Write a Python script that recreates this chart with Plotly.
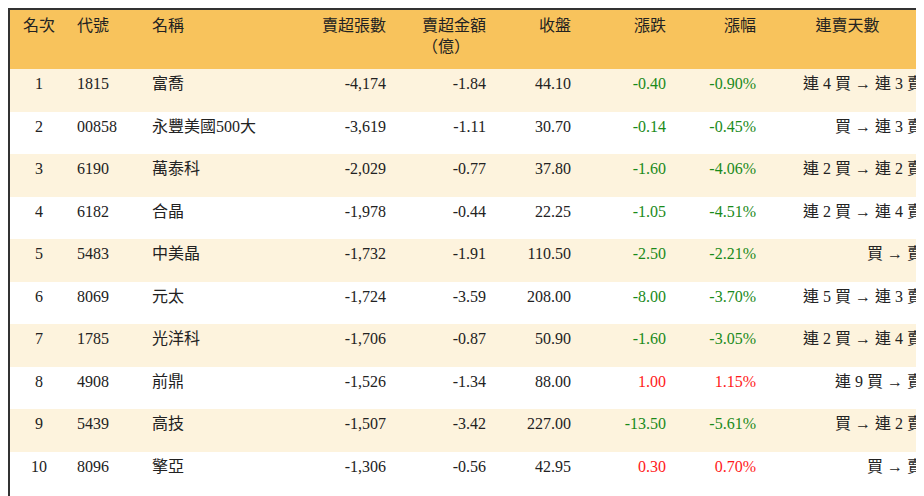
import plotly.graph_objects as go

headers = ["名次", "代號", "名稱", "賣超張數", "賣超金額<br>（億）", "收盤", "漲跌", "漲幅", "連賣天數"]
rank = ["1", "2", "3", "4", "5", "6", "7", "8", "9", "10"]
code = ["1815", "00858", "6190", "6182", "5483", "8069", "1785", "4908", "5439", "8096"]
name = ["富喬", "永豐美國500大", "萬泰科", "合晶", "中美晶", "元太", "光洋科", "前鼎", "高技", "擎亞"]
net_sell = ["-4,174", "-3,619", "-2,029", "-1,978", "-1,732", "-1,724", "-1,706", "-1,526", "-1,507", "-1,306"]
amount = ["-1.84", "-1.11", "-0.77", "-0.44", "-1.91", "-3.59", "-0.87", "-1.34", "-3.42", "-0.56"]
close = ["44.10", "30.70", "37.80", "22.25", "110.50", "208.00", "50.90", "88.00", "227.00", "42.95"]
change = [-0.40, -0.14, -1.60, -1.05, -2.50, -8.00, -1.60, 1.00, -13.50, 0.30]
pct = [-0.90, -0.45, -4.06, -4.51, -2.21, -3.70, -3.05, 1.15, -5.61, 0.70]
streak = ["連 4 買 → 連 3 賣", "買 → 連 3 賣", "連 2 買 → 連 2 賣", "連 2 買 → 連 4 賣", "買 → 賣",
          "連 5 買 → 連 3 賣", "連 2 買 → 連 4 賣", "連 9 買 → 賣", "買 → 連 2 賣", "買 → 賣"]

GREEN, RED, DARK = "#1a8a1a", "#ff1a1a", "#222222"
chg_txt = [f"{v:.2f}" for v in change]
pct_txt = [f"{v:.2f}%" for v in pct]
chg_col = [GREEN if v < 0 else RED for v in change]
pct_col = [GREEN if v < 0 else RED for v in pct]
fills = ["#fdf3dd" if i % 2 == 0 else "#ffffff" for i in range(len(rank))]
dark_col = [DARK] * len(rank)

font_fam = "Liberation Serif, Noto Sans CJK TC"
hdr = [h if "<br>" in h else "<br>" + h for h in headers]
fig = go.Figure(go.Table(
    columnwidth=[60, 75, 150, 100, 100, 85, 95, 90, 167],
    header=dict(values=hdr,
                fill_color="#f8c35c", line=dict(width=0),
                align=["center", "left", "left", "right", "right", "right", "right", "right", "center"],
                font=dict(family=font_fam, size=16, color=DARK), height=60),
    cells=dict(values=[rank, code, name, net_sell, amount, close, chg_txt, pct_txt, streak],
               fill_color=[fills] * 9, line=dict(width=0),
               align=["center", "left", "left", "right", "right", "right", "right", "right", "right"],
               font=dict(family=font_fam, size=16,
                         color=[dark_col] * 6 + [chg_col, pct_col, dark_col]),
               height=42.5),
))
fig.update_layout(width=924, height=496, margin=dict(l=1, r=1, t=1, b=1),
                  paper_bgcolor="white")
fig.add_shape(type="rect", xref="paper", yref="paper", x0=0, x1=1, y0=0, y1=1,
              line=dict(color="#333333", width=2))
fig.write_html("out.html")
